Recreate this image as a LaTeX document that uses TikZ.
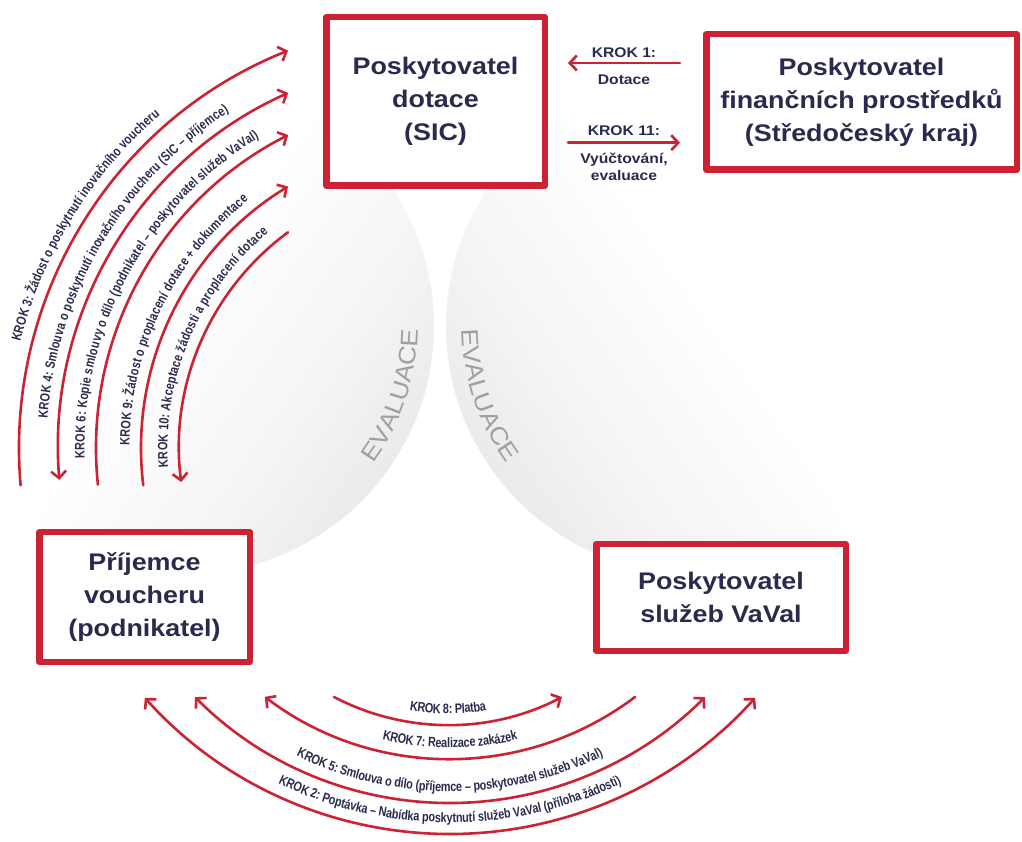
\documentclass[tikz,border=0pt]{standalone}
\usepackage{fontspec}
\setmainfont{Liberation Sans}[FakeStretch=1.12]
\newfontfamily\narrowfont{Liberation Sans}[FakeStretch=0.8]
\usetikzlibrary{arrows.meta}
\usetikzlibrary{decorations.text}
\definecolor{vred}{RGB}{204,34,52}
\definecolor{navy}{RGB}{40,43,78}
\definecolor{evgray}{RGB}{160,160,160}
\newcommand{\krokfont}{\narrowfont\bfseries\fontsize{13.6}{13.6}\selectfont}
\newcommand{\evfont}{\fontsize{24}{24}\selectfont}
\pgfdeclarehorizontalshading{discleft}{100bp}{color(0bp)=(white); color(48bp)=(white); color(64bp)=(black!4); color(75bp)=(black!8); color(100bp)=(black!8)}
\pgfdeclarehorizontalshading{discright}{100bp}{color(0bp)=(black!8); color(25bp)=(black!8); color(36bp)=(black!4); color(52bp)=(white); color(100bp)=(white)}
\tikzset{
  box/.style={draw=vred, line width=6.5pt, fill=white, text=navy, align=center, inner sep=2pt, font=\bfseries\fontsize{24}{33}\selectfont},
  flow/.style={draw=vred, line width=2.6pt},
  steptext/.style={text=navy, font=\bfseries\fontsize{14}{17}\selectfont, align=center},
  krokpath/.style={decorate, decoration={text along path, text align=center, raise=11.5pt, text color=navy, text={|\krokfont|#1}}},
  evtext/.style={decorate, decoration={text along path, text align=center, text color=evgray, text={|\evfont|#1}}}
}

\begin{document}
\begin{tikzpicture}[line cap=round,line join=round,>={Straight Barb[length=7pt,width=15pt]},x=1pt,y=1pt]
\useasboundingbox (0,0) rectangle (1022,841);
\clip (0,0) rectangle (1022,841);
% grey discs behind
\coordinate (cl) at (186,515);
\coordinate (cr) at (694,515);
\shade[shading=discleft, shading angle=-35] (cl) circle[radius=248pt];
\shade[shading=discright, shading angle=35] (cr) circle[radius=248pt];
\path[evtext=EVALUACE] ([shift={(-40:232pt)}]cl) arc[start angle=-40, end angle=3, radius=232pt];
\path[evtext=EVALUACE] ([shift={(177:232pt)}]cr) arc[start angle=177, end angle=220, radius=232pt];

\node[box, minimum width=218.5pt, minimum height=168.5pt] (sic) at (435.5,739.5) {Poskytovatel\\dotace\\(SIC)};
\node[box, minimum width=310.5pt, minimum height=135.5pt] (fin) at (861.5,739) {Poskytovatel\\finančních prostředků\\(Středočeský kraj)};
\node[box, minimum width=210.5pt, minimum height=129.5pt] (prij) at (144.5,244) {Příjemce\\voucheru\\(podnikatel)};
\node[box, minimum width=249.5pt, minimum height=106.5pt] (vaval) at (721,243.5) {Poskytovatel\\služeb VaVal};

\draw[flow,->] ([shift={(-23pt,39pt)}]fin.west) -- ([shift={(20pt,38.5pt)}]sic.east) node[steptext, midway, above=1pt] {KROK 1:} node[steptext, midway, below=7pt] {Dotace};
\draw[flow,->] ([shift={(20pt,-41.2pt)}]sic.east) -- ([shift={(-23pt,-40.7pt)}]fin.west) node[steptext, midway, above=2pt] {KROK 11:} node[steptext, midway, below=6pt] {Vyúčtování,\\evaluace};

% left arcs, prijemce <-> SIC
\coordinate (kl) at (447,393);
\draw[flow,->] ([shift={(185:428pt)}]kl) arc[start angle=185, end angle=111.8, radius=428pt];
\path[krokpath={KROK 3: Žádost o poskytnutí inovačního voucheru}] ([shift={(185:428pt)}]kl) arc[start angle=185, end angle=111.8, radius=428pt];
\draw[flow,<->] ([shift={(184.7:389pt)}]kl) arc[start angle=184.7, end angle=114.1, radius=389pt];
\path[krokpath={KROK 4: Smlouva o poskytnutí inovačního voucheru (SIC – příjemce)}] ([shift={(184.7:389pt)}]kl) arc[start angle=184.7, end angle=114.1, radius=389pt];
\draw[flow,->] ([shift={(186:351pt)}]kl) arc[start angle=186, end angle=116.9, radius=351pt];
\path[krokpath={KROK 6: Kopie smlouvy o dílo (podnikatel – poskytovatel služeb VaVal)}] ([shift={(186:351pt)}]kl) arc[start angle=186, end angle=116.9, radius=351pt];
\draw[flow,->] ([shift={(187:306pt)}]kl) arc[start angle=187, end angle=121.3, radius=306pt];
\path[krokpath={KROK 9: Žádost o proplacení dotace + dokumentace}] ([shift={(187:306pt)}]kl) arc[start angle=187, end angle=121.3, radius=306pt];
\draw[flow,<-] ([shift={(187.3:268pt)}]kl) arc[start angle=187.3, end angle=126.4, radius=268pt];
\path[krokpath={KROK 10: Akceptace žádosti a proplacení dotace}] ([shift={(187.3:268pt)}]kl) arc[start angle=187.3, end angle=126.4, radius=268pt];

% bottom arcs, prijemce <-> VaVal
\coordinate (b2) at (450,417);
\coordinate (b5) at (450,398);
\coordinate (b7) at (450,389);
\coordinate (b8) at (448,362);
\draw[flow,<->] ([shift={(221.9:410pt)}]b2) arc[start angle=221.9, end angle=318.1, radius=410pt];
\path[krokpath={KROK 2: Poptávka – Nabídka poskytnutí služeb VaVal (příloha žádosti)}] ([shift={(221.9:410pt)}]b2) arc[start angle=221.9, end angle=318.1, radius=410pt];
\draw[flow,<->] ([shift={(224.9:360pt)}]b5) arc[start angle=224.9, end angle=315.1, radius=360pt];
\path[krokpath={KROK 5: Smlouva o dílo (příjemce – poskytovatel služeb VaVal)}] ([shift={(224.9:360pt)}]b5) arc[start angle=224.9, end angle=315.1, radius=360pt];
\draw[flow,<-] ([shift={(232.9:307pt)}]b7) arc[start angle=232.9, end angle=307.1, radius=307pt];
\path[krokpath={KROK 7: Realizace zakázek}] ([shift={(232.9:307pt)}]b7) arc[start angle=232.9, end angle=307.1, radius=307pt];
\draw[flow,->] ([shift={(242.4:246pt)}]b8) arc[start angle=242.4, end angle=297.6, radius=246pt];
\path[krokpath={KROK 8: Platba}] ([shift={(242.4:246pt)}]b8) arc[start angle=242.4, end angle=297.6, radius=246pt];
\end{tikzpicture}
\end{document}
